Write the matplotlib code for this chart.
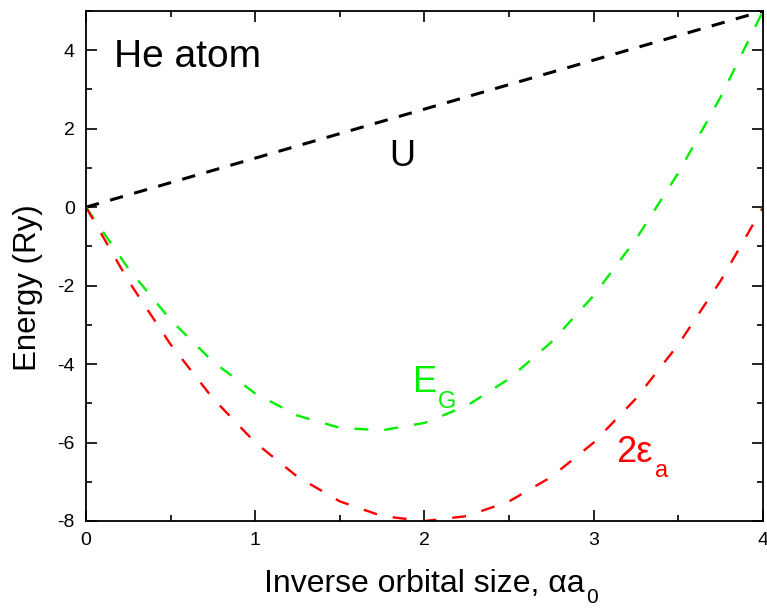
import numpy as np
import matplotlib
matplotlib.use('Agg')
import matplotlib.pyplot as plt
from matplotlib.ticker import MultipleLocator

plt.rcParams['font.family'] = ['Liberation Sans', 'DejaVu Sans']
plt.rcParams['axes.unicode_minus'] = False

# inverse orbital size alpha*a0, sampled every 0.25
alpha = [0.0, 0.25, 0.5, 0.75, 1.0, 1.25, 1.5, 1.75, 2.0,
         2.25, 2.5, 2.75, 3.0, 3.25, 3.5, 3.75, 4.0]
# electron-electron repulsion U (Ry)
u_energy = [0.0, 0.3125, 0.625, 0.9375, 1.25, 1.5625, 1.875, 2.1875, 2.5,
            2.8125, 3.125, 3.4375, 3.75, 4.0625, 4.375, 4.6875, 5.0]
# total ground state energy E_G (Ry)
e_ground = [0.0, -1.5625, -2.875, -3.9375, -4.75, -5.3125, -5.625, -5.6875, -5.5,
            -5.0625, -4.375, -3.4375, -2.25, -0.8125, 0.875, 2.8125, 5.0]
# twice the one-electron energy 2*eps_a (Ry)
two_eps = [0.0, -1.875, -3.5, -4.875, -6.0, -6.875, -7.5, -7.875, -8.0,
           -7.875, -7.5, -6.875, -6.0, -4.875, -3.5, -1.875, 0.0]

GREEN = '#00ee00'
RED = '#ff0000'

fig = plt.figure(figsize=(7.67, 6.09), dpi=100)
ax = fig.add_axes([0.1121, 0.1445, 0.8827, 0.8374])

ax.plot(alpha, u_energy, color='black', lw=2.2, dashes=(4.4, 3.8))
ax.plot(alpha, e_ground, color=GREEN, lw=1.7, dashes=(5.9, 6.8))
ax.plot(alpha, two_eps, color=RED, lw=1.7, dashes=(5.9, 6.8))

ax.set_xlim(0, 4)
ax.set_ylim(-8, 5)
ax.xaxis.set_major_locator(MultipleLocator(1))
ax.xaxis.set_minor_locator(MultipleLocator(0.5))
ax.yaxis.set_major_locator(MultipleLocator(2))
ax.yaxis.set_minor_locator(MultipleLocator(1))
ax.tick_params(which='both', direction='in', top=True, right=True,
               width=1.2, labelsize=14, pad=8)
ax.tick_params(which='major', length=8)
ax.tick_params(which='minor', length=4)
for s in ax.spines.values():
    s.set_linewidth(1.3)

ax.set_xlabel('Inverse orbital size, αa', fontsize=23, labelpad=14)
ax.set_ylabel('Energy (Ry)', fontsize=22.5)
ax.yaxis.set_label_coords(-0.0635, 0.457)

# subscript 0 hung off the right end of the x label
ax.annotate('0', xy=(1, 0), xycoords=ax.xaxis.label, xytext=(1, -6),
            textcoords='offset points', fontsize=15, va='bottom')


def label(x, y, main, sub, color, dx, dy):
    # big label with a small lowered subscript
    ax.text(x, y, main, fontsize=26, color=color)
    ax.annotate(sub, (x, y), xytext=(dx, dy), textcoords='offset points',
                fontsize=17, color=color)


ax.text(0.165, 3.57, 'He atom', fontsize=28)
ax.text(1.87, 1.28, 'U', fontsize=26, ha='center', va='center')
label(1.93, -4.71, 'E', 'G', GREEN, 18, -11.5)
label(3.13, -6.5, '2ε', 'a', RED, 28.5, -11)

fig.savefig('out.png', dpi=100)
